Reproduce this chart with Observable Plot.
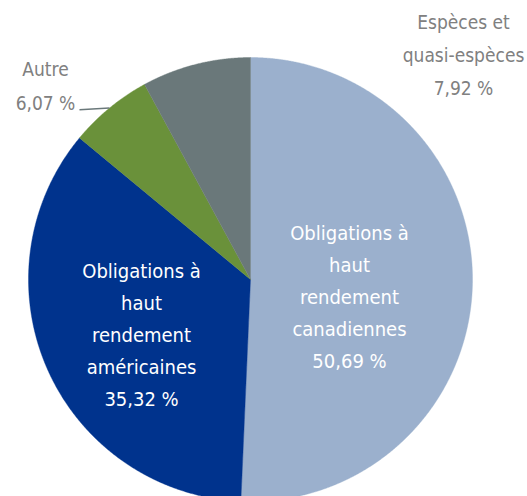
<!DOCTYPE html>
<html>
<head>
<meta charset="utf-8">
<script src="https://cdn.jsdelivr.net/npm/d3@7"></script>
<script src="https://cdn.jsdelivr.net/npm/@observablehq/plot@0.6"></script>
<style>
  html, body { margin: 0; padding: 0; background: #fff; }
</style>
</head>
<body>
<div id="chart"></div>
<script>
// ---- data ----
const categories = [
  "Obligations à haut rendement canadiennes",
  "Obligations à haut rendement américaines",
  "Autre",
  "Espèces et quasi-espèces"
];
const shares = [50.69, 35.32, 6.07, 7.92];
const labelLines = [
  ["Obligations à", "haut", "rendement", "canadiennes"],
  ["Obligations à", "haut", "rendement", "américaines"],
  ["Autre"],
  ["Espèces et", "quasi-espèces"]
];
const colors = ["#9bb0cd", "#00338d", "#6a913a", "#6a787a"];

// ---- layout ----
const W = 527, H = 496;
const cx = 250, cy = 279, R = 222; // pixels
const FONT = '"Liberation Sans Narrow", "DejaVu Sans Condensed", "Arial Narrow", sans-serif';

const fmt = v => v.toFixed(2).replace(".", ",") + " %";
const total = d3.sum(shares);

// slice angles (clockwise from 12 o'clock)
let acc = 0;
const slices = categories.map((c, i) => {
  const a0 = acc / total * 2 * Math.PI;
  acc += shares[i];
  const a1 = acc / total * 2 * Math.PI;
  return {cat: c, value: shares[i], a0, a1, mid: (a0 + a1) / 2,
          label: [...labelLines[i], fmt(shares[i])].join("\n")};
});

// polygon vertices in radius units
const pts = [];
for (const s of slices) {
  pts.push({cat: s.cat, x: 0, y: 0});
  const n = Math.ceil((s.a1 - s.a0) / 0.004);
  for (let k = 0; k <= n; k++) {
    const a = s.a0 + (s.a1 - s.a0) * k / n;
    pts.push({cat: s.cat, x: Math.sin(a), y: Math.cos(a)});
  }
  pts.push({cat: s.cat, x: 0, y: 0});
}

// inside labels
const insideR = [0.446, 0.537];
const insideDy = [12, 4];
const inside = slices.slice(0, 2).map((s, i) => ({
  label: s.label,
  x: insideR[i] * Math.sin(s.mid),
  y: insideR[i] * Math.cos(s.mid)
}));

// leader for "Autre"
const autre = slices[2];
const ex = Math.sin(autre.mid), ey = Math.cos(autre.mid);
const leader = [{x1: ex - 30 / R, y1: ey - 1.8 / R, x2: ex, y2: ey}];

const chart = Plot.plot({
  width: W,
  height: H,
  margin: 0,
  x: {domain: [-cx / R, (W - cx) / R], axis: null},
  y: {domain: [-(H - cy) / R, cy / R], axis: null},
  color: {domain: categories, range: colors},
  style: {fontFamily: FONT, background: "#fff"},
  marks: [
    Plot.line(pts, {x: "x", y: "y", z: "cat", fill: "cat", stroke: "cat", strokeWidth: 0.4}),
    Plot.text([inside[0]], {
      x: "x", y: "y", text: "label", fill: "white",
      fontSize: 20, lineHeight: 1.6, dy: insideDy[0]
    }),
    Plot.text([inside[1]], {
      x: "x", y: "y", text: "label", fill: "white",
      fontSize: 20, lineHeight: 1.6, dy: insideDy[1]
    }),
    Plot.text([slices[3]], {
      text: "label", frameAnchor: "top-right", textAnchor: "middle", lineAnchor: "middle",
      dx: -(W - 463), dy: 51, fill: "#808080", fontSize: 19, lineHeight: 1.74
    }),
    Plot.text([slices[2]], {
      text: "label", frameAnchor: "top-left", textAnchor: "middle", lineAnchor: "middle",
      dx: 45, dy: 82, fill: "#808080", fontSize: 19, lineHeight: 1.78
    }),
    Plot.link(leader, {x1: "x1", y1: "y1", x2: "x2", y2: "y2", stroke: "#6a787a", strokeWidth: 1.5})
  ]
});
document.getElementById("chart").append(chart);
</script>
</body>
</html>
